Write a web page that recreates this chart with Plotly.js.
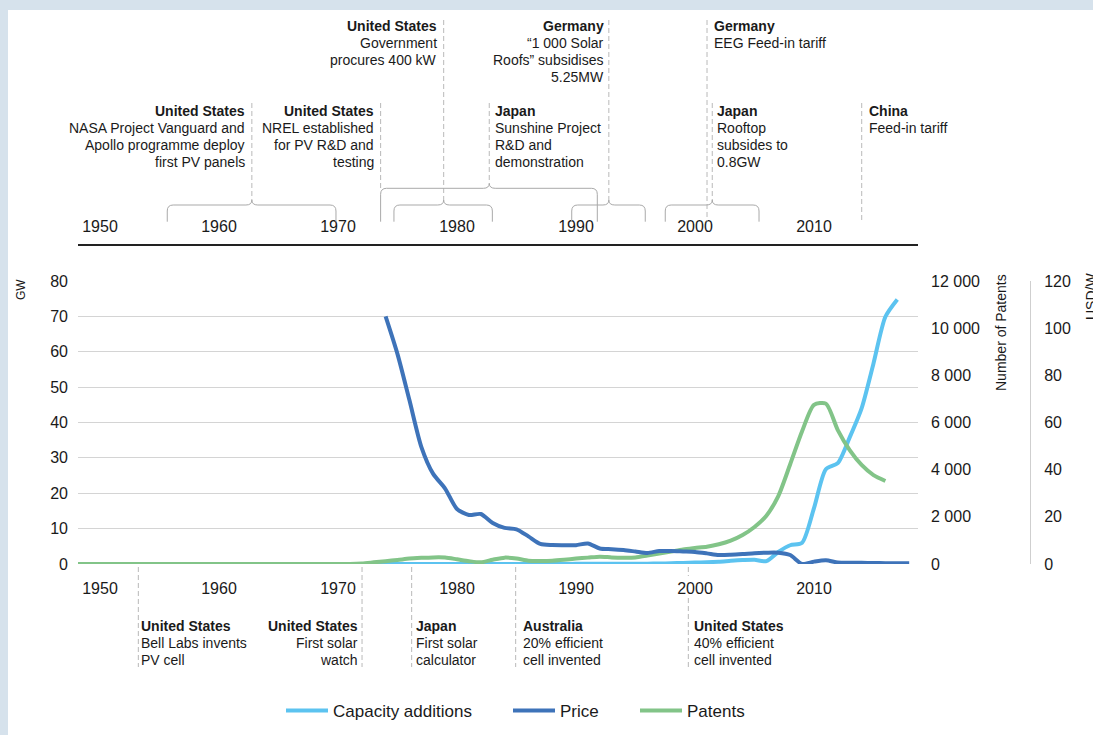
<!DOCTYPE html>
<html><head><meta charset="utf-8">
<script src="https://cdn.plot.ly/plotly-3.0.1.min.js"></script>
<style>
html,body{margin:0;padding:0;background:#d6e2ec;width:1093px;height:735px;overflow:hidden}
#chart{position:absolute;left:8px;top:10px;width:1085px;height:725px;background:#fff}
</style></head><body><div id="chart"></div>
<script>
// ---------------- data ----------------
const tickYears = [1950, 1960, 1970, 1980, 1990, 2000, 2010];

const capacityYears = [1972,1973,1974,1975,1976,1977,1978,1979,1980,1981,1982,1983,1984,1985,1986,1987,1988,1989,
  1990,1991,1992,1993,1994,1995,1996,1997,1998,1999,2000,2001,2002,2003,2004,2005,2006,2007,2008,2009,
  2010,2011,2012,2013,2014,2015,2016,2017];
const capacityGW = [0,0,0,0,0,0,0,0,0,0,0,0,0,0,0,0,0,0,
  0.05,0.05,0.05,0.05,0.05,0.05,0.1,0.15,0.2,0.3,0.4,0.5,0.65,0.9,1.1,1.2,0.8,3.4,5.3,6.0,
  15.8,26.8,28.5,35.8,44,56.7,69.9,74.8];

const priceYears = [1974,1975,1976,1977,1978,1979,1980,1981,1982,1983,1984,1985,1986,1987,1988,1989,
  1990,1991,1992,1993,1994,1995,1996,1997,1998,1999,2000,2001,2002,2003,2004,2005,2006,2007,2008,2009,
  2010,2011,2012,2013,2014,2015,2016,2017,2018];
const priceUSDperW = [105,89,69.5,49.7,38.2,32,23.3,20.8,21.2,17.4,15.3,14.7,11.7,8.5,8.05,8.0,
  8.0,8.7,6.6,6.3,5.9,5.3,4.7,5.5,5.5,5.3,5.1,4.5,3.8,3.9,4.2,4.6,4.8,4.8,3.8,0.0,
  1.0,1.6,0.6,0.5,0.5,0.4,0.35,0.3,0.3];

const patentYears = [1948,1949,1950,1951,1952,1953,1954,1955,1956,1957,1958,1959,1960,1961,1962,1963,1964,1965,
  1966,1967,1968,1969,1970,1971,1972,1973,1974,1975,1976,1977,1978,1979,1980,1981,1982,1983,1984,1985,
  1986,1987,1988,1989,1990,1991,1992,1993,1994,1995,1996,1997,1998,1999,2000,2001,2002,2003,2004,2005,
  2006,2007,2008,2009,2010,2011,2012,2013,2014,2015,2016];
const patentCount = [0,0,0,0,0,0,0,0,0,0,0,0,0,0,0,0,0,0,
  0,0,0,0,0,0,20,70,120,170,230,260,280,275,200,120,70,180,270,230,
  140,130,140,180,230,270,310,280,270,280,360,440,530,620,680,735,835,990,1230,1570,
  2050,2880,4230,5630,6750,6800,5680,4830,4200,3770,3520];

// timeline events (year of the marker line)
const topEventYear    = [1962.76, 1973.58, 1978.88, 1982.71, 1992.76, 2001.01, 2001.45, 2014.01];
const topEventCountry = ['United States','United States','United States','Japan','Germany','Germany','Japan','China'];
const topEventText    = [
  ['NASA Project Vanguard and','Apollo programme deploy','first PV panels'],
  ['NREL established','for PV R&amp;D and','testing'],
  ['Government','procures 400 kW'],
  ['Sunshine Project','R&amp;D and','demonstration'],
  ['\u201c1 000 Solar','Roofs\u201d subsidises','5.25MW'],
  ['EEG Feed-in tariff'],
  ['Rooftop','subsides to','0.8GW'],
  ['Feed-in tariff']
];
const topEventRow   = [2,2,1,2,1,1,2,2];
const topEventAlign = ['right','right','right','left','right','left','left','left'];
const topEventShift = [-7,-7,-7,6,-5,7,5,7];
const topEventLineEnd = [200,188,200,183,200,221.7,200,221.7];

const braceFrom = [1955.65, 1973.58, 1974.70, 1989.64, 1997.50];
const braceTo   = [1969.83, 1991.79, 1982.97, 1995.82, 2005.38];
const braceTip  = [1962.76, 1982.71, 1978.88, 1992.76, 2001.45];
const braceTopY = [205, 188.3, 205, 205, 205];

const botEventYear    = [1953.22, 1972.02, 1976.19, 1984.93, 1999.44];
const botEventCountry = ['United States','United States','Japan','Australia','United States'];
const botEventText    = [['Bell Labs invents','PV cell'],['First solar','watch'],['First solar','calculator'],
  ['20% efficient','cell invented'],['40% efficient','cell invented']];
const botEventAlign = ['left','right','left','left','left'];
const botEventShift = [3,-4,4,7,6];
const botEventLabelGap = [false,false,false,false,true];

// ---------------- styling / layout ----------------
const FONT = 'Liberation Sans, Arial, sans-serif';
const TXT = '#1a1a1a';
const xRange = [1948.15, 2018.74];
const H = 725, TOP = 10;
function py(Y) { return (H + TOP - Y) / H; }   // page pixel row -> paper fraction

const traces = [
  {x: capacityYears, y: capacityGW, name: 'Capacity additions', type: 'scatter', mode: 'lines', showlegend: true,
   line: {color: '#5cc3f0', width: 4, shape: 'spline', smoothing: 0.7}, yaxis: 'y', legend: 'legend'},
  {x: priceYears, y: priceUSDperW, name: 'Price', type: 'scatter', mode: 'lines', showlegend: true,
   line: {color: '#3e73b9', width: 4, shape: 'spline', smoothing: 0.7}, yaxis: 'y3', legend: 'legend2'},
  {x: patentYears, y: patentCount, name: 'Patents', type: 'scatter', mode: 'lines', showlegend: true,
   line: {color: '#82c488', width: 4, shape: 'spline', smoothing: 0.7}, yaxis: 'y2', legend: 'legend3'},
  {x: [], y: [], xaxis: 'x2', yaxis: 'y', showlegend: false, hoverinfo: 'skip'}
];

const shapes = [];
const annotations = [];
const dashStyle = {color: '#b9b9b9', width: 1, dash: '5px,3px'};

function addLines(lines, country, x, rowYs, align, shift) {
  const all = ['<b>' + country + '</b>'].concat(lines);
  all.forEach((t, i) => {
    annotations.push({xref: 'x', yref: 'paper', x: x, y: py(rowYs[i]), text: t, showarrow: false,
      xanchor: align, yanchor: 'middle', xshift: shift, borderpad: 0, borderwidth: 0,
      font: {family: FONT, size: 14, color: TXT}});
  });
}

const row1 = [26, 43, 60, 77];
const row2 = [111, 128, 145, 162];
topEventYear.forEach((yr, i) => {
  const top = topEventRow[i] === 1 ? 20 : 103;
  shapes.push({type: 'line', xref: 'x', yref: 'paper', x0: yr, x1: yr, y0: py(top), y1: py(topEventLineEnd[i]), line: dashStyle});
  addLines(topEventText[i], topEventCountry[i], yr, topEventRow[i] === 1 ? row1 : row2, topEventAlign[i], topEventShift[i]);
});

const rx = 0.5, ry = 6 / H, bot = py(221.7);
braceFrom.forEach((x0, i) => {
  const x1 = braceTo[i], xt = braceTip[i], yt = py(braceTopY[i]), tip = py(braceTopY[i] - 5);
  const p = `M${x0},${bot} L${x0},${yt - ry} Q${x0},${yt} ${x0 + rx},${yt} L${xt - rx},${yt} Q${xt},${yt} ${xt},${tip} ` +
            `Q${xt},${yt} ${xt + rx},${yt} L${x1 - rx},${yt} Q${x1},${yt} ${x1},${yt - ry} L${x1},${bot}`;
  shapes.push({type: 'path', xref: 'x', yref: 'paper', path: p, line: {color: '#a9a9a9', width: 1}});
});

const row3 = [626, 643, 660];
botEventYear.forEach((yr, i) => {
  if (botEventLabelGap[i]) {
    shapes.push({type: 'line', xref: 'x', yref: 'paper', x0: yr, x1: yr, y0: py(567), y1: py(576), line: dashStyle});
    shapes.push({type: 'line', xref: 'x', yref: 'paper', x0: yr, x1: yr, y0: py(598), y1: py(667), line: dashStyle});
  } else {
    shapes.push({type: 'line', xref: 'x', yref: 'paper', x0: yr, x1: yr, y0: py(567), y1: py(667), line: dashStyle});
  }
  addLines(botEventText[i], botEventCountry[i], yr, row3, botEventAlign[i], botEventShift[i]);
});

// axis titles
annotations.push({xref: 'paper', yref: 'paper', x: (21 - 78) / 1010, y: py(290), text: 'GW', textangle: -90,
  showarrow: false, xanchor: 'center', yanchor: 'middle', font: {family: FONT, size: 12, color: TXT}});
annotations.push({xref: 'paper', yref: 'paper', x: (1001 - 78) / 1010, y: py(333), text: 'Number of Patents', textangle: -90,
  showarrow: false, xanchor: 'center', yanchor: 'middle', font: {family: FONT, size: 14, color: TXT}});
annotations.push({xref: 'paper', yref: 'paper', x: (1091 - 78) / 1010, y: py(297), text: 'USD/W', textangle: -90,
  showarrow: false, xanchor: 'center', yanchor: 'middle', font: {family: FONT, size: 14, color: TXT}});

const tickFont = {family: FONT, size: 16, color: TXT};
const legendBase = {orientation: 'h', xanchor: 'left', yanchor: 'middle', y: py(711), itemwidth: 42,
  bgcolor: 'rgba(0,0,0,0)', font: {family: FONT, size: 17, color: TXT}};

const layout = {
  width: 1085, height: 725,
  margin: {l: 70, r: 5, t: 0, b: 0},
  paper_bgcolor: '#ffffff', plot_bgcolor: '#ffffff',
  separators: '. ',
  font: {family: FONT, color: TXT},
  showlegend: true,
  xaxis: {domain: [0, 0.83168], range: xRange, showgrid: false, zeroline: false, showline: false, ticks: '',
    tickmode: 'array', tickvals: tickYears, tickfont: tickFont, ticklabelstandoff: 13},
  xaxis2: {overlaying: 'x', anchor: 'free', position: py(245), side: 'top', domain: [0, 0.83168], range: xRange,
    showgrid: false, zeroline: false, showline: true, linewidth: 2, linecolor: '#222222', ticks: '',
    tickmode: 'array', tickvals: tickYears, tickfont: tickFont, ticklabelstandoff: 6},
  yaxis: {domain: [py(564), py(281)], range: [0, 80], dtick: 10, gridcolor: '#d4d4d4', gridwidth: 1,
    zeroline: false, showline: false, ticks: '', tickfont: tickFont, ticklabelstandoff: 9},
  yaxis2: {overlaying: 'y', side: 'right', anchor: 'x', range: [0, 12000], dtick: 2000, tickformat: ',d',
    showgrid: false, zeroline: false, showline: false, ticks: '', tickfont: tickFont, ticklabelstandoff: 12},
  yaxis3: {overlaying: 'y', side: 'right', anchor: 'free', position: (1030 - 78) / 1010, range: [0, 120], dtick: 20,
    showgrid: false, zeroline: false, showline: true, linecolor: '#cfcfcf', linewidth: 1, ticks: '',
    tickfont: tickFont, ticklabelstandoff: 10},
  legend: Object.assign({}, legendBase, {x: (281 - 78) / 1010}),
  legend2: Object.assign({}, legendBase, {x: (508 - 78) / 1010}),
  legend3: Object.assign({}, legendBase, {x: (635 - 78) / 1010}),
  shapes: shapes,
  annotations: annotations,
  hovermode: false
};

Plotly.newPlot('chart', traces, layout, {staticPlot: true, displayModeBar: false});
</script></body></html>
